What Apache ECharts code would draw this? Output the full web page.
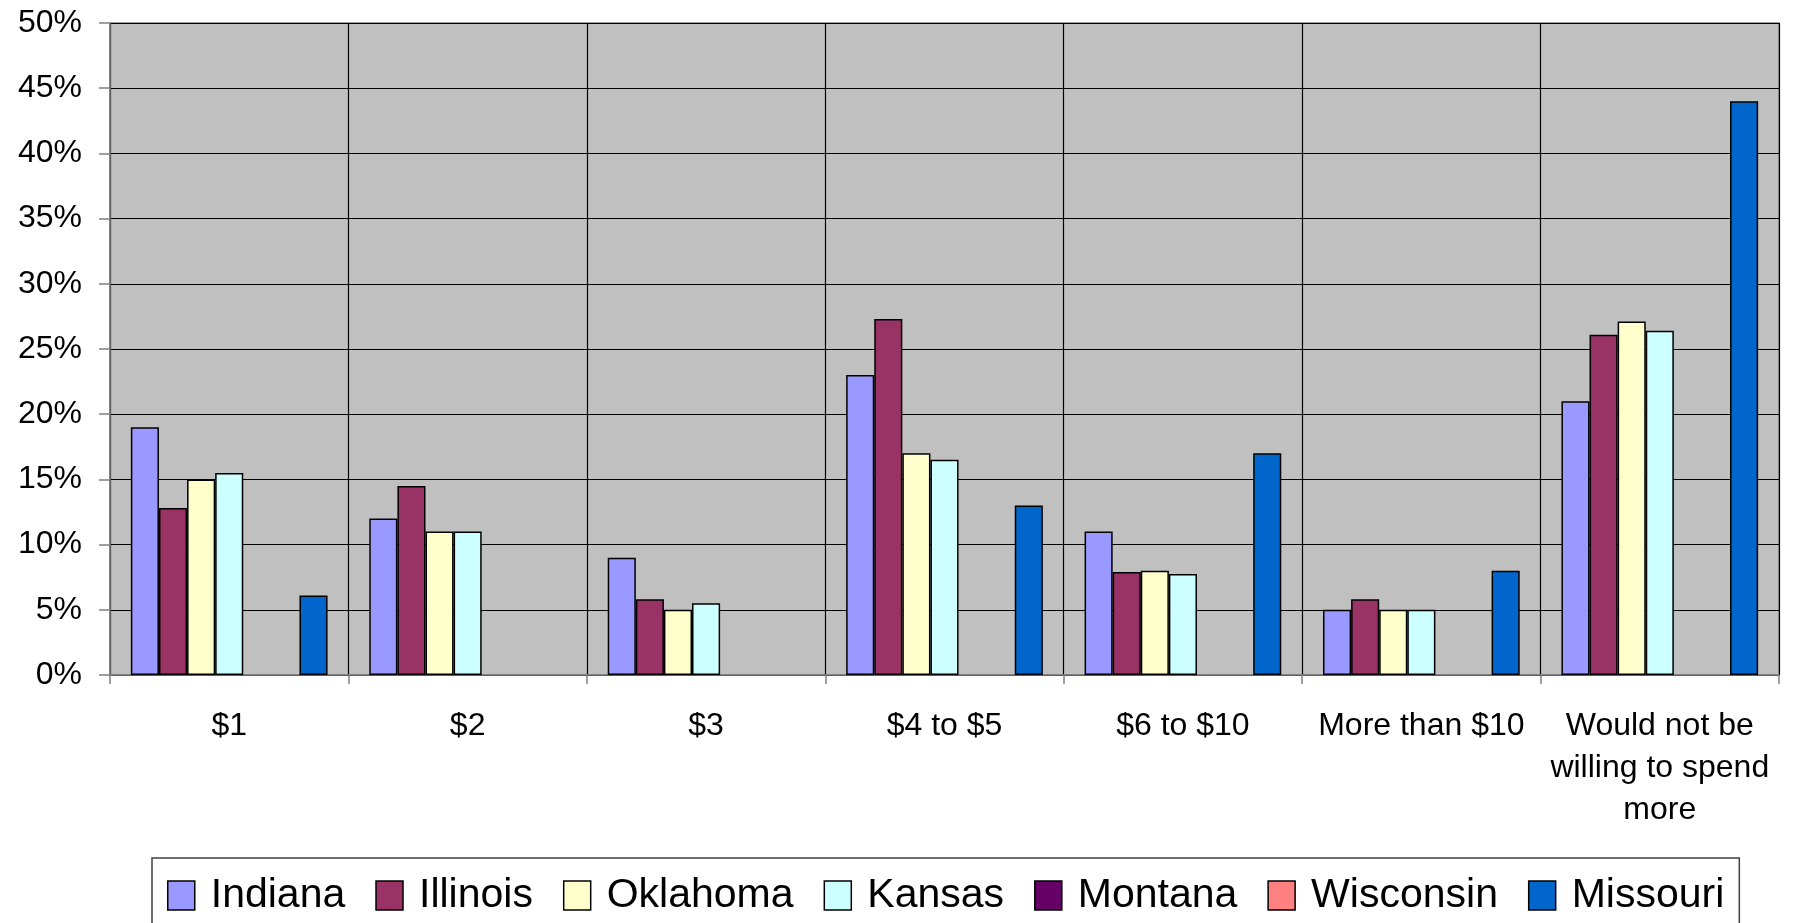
<!DOCTYPE html>
<html>
<head>
<meta charset="utf-8">
<script src="https://cdn.jsdelivr.net/npm/echarts@6/dist/echarts.min.js"></script>
<style>
html,body{margin:0;padding:0;background:#fff;}
#chart{width:1793px;height:923px;}
</style>
</head>
<body>
<div id="chart"></div>
<script>
var categories = ['$1', '$2', '$3', '$4 to $5', '$6 to $10', 'More than $10', 'Would not be\nwilling to spend\nmore'];
var seriesNames = ['Indiana', 'Illinois', 'Oklahoma', 'Kansas', 'Montana', 'Wisconsin', 'Missouri'];
var indiana  = [19.0, 12.0, 9.0, 23.0, 11.0, 5.0, 21.0];
var illinois = [12.8, 14.5, 5.8, 27.3, 7.9, 5.8, 26.1];
var oklahoma = [15.0, 11.0, 5.0, 17.0, 8.0, 5.0, 27.1];
var kansas   = [15.5, 11.0, 5.5, 16.5, 7.75, 5.0, 26.4];
var montana  = [null, null, null, null, null, null, null];
var wisconsin= [null, null, null, null, null, null, null];
var missouri = [6.1, null, null, 13.0, 17.0, 8.0, 44.0];
var yTicks = { min: 0, max: 50, interval: 5 };
var colors = ['#9999FF', '#993366', '#FFFFCC', '#CCFFFF', '#660066', '#FF8080', '#0066CC'];

var allData = [indiana, illinois, oklahoma, kansas, montana, wisconsin, missouri];
var font = '"Liberation Sans", Arial, sans-serif';

var chart = echarts.init(document.getElementById('chart'), null, {renderer: 'canvas'});
var series = seriesNames.map(function (n, i) {
  return {
    name: n,
    type: 'bar',
    data: allData[i],
    barGap: '0%',
    barCategoryGap: '17.5%',
    itemStyle: { color: colors[i], borderColor: '#000', borderWidth: 1.5 },
    emphasis: { disabled: true },
    animation: false
  };
});

chart.setOption({
  animation: false,
  grid: {
    left: 110, right: 14, top: 23, bottom: 248,
    show: true, backgroundColor: '#C0C0C0', borderColor: '#808080', borderWidth: 1.5
  },
  legend: {
    data: seriesNames,
    left: 152, top: 858,
    padding: [17, 15, 20, 15],
    itemGap: 30,
    itemWidth: 27,
    itemHeight: 29,
    borderColor: '#404040',
    borderWidth: 1.5,
    backgroundColor: '#fff',
    icon: 'rect',
    itemStyle: { borderColor: '#000', borderWidth: 1.5 },
    textStyle: { fontFamily: font, fontSize: 41, color: '#000', padding: [0, 0, 0, 11] }
  },
  xAxis: {
    type: 'category',
    data: categories,
    axisLine: { show: true, lineStyle: { color: '#808080', width: 1.5 } },
    axisTick: { show: true, length: 9, lineStyle: { color: '#808080', width: 1.5 } },
    splitLine: { show: true, lineStyle: { color: '#000', width: 1.2 } },
    axisLabel: {
      interval: 0, margin: 30, color: '#000', fontFamily: font, fontSize: 32,
      lineHeight: 42, align: 'center'
    }
  },
  yAxis: {
    type: 'value',
    min: yTicks.min, max: yTicks.max, interval: yTicks.interval,
    axisLine: { show: true, lineStyle: { color: '#808080', width: 1.5 } },
    axisTick: { show: true, length: 11, lineStyle: { color: '#808080', width: 1.5 } },
    splitLine: { show: true, lineStyle: { color: '#000', width: 1.2 } },
    axisLabel: { formatter: '{value}%', margin: 28, color: '#000', fontFamily: font, fontSize: 32 }
  },
  series: series
});
</script>
</body>
</html>
